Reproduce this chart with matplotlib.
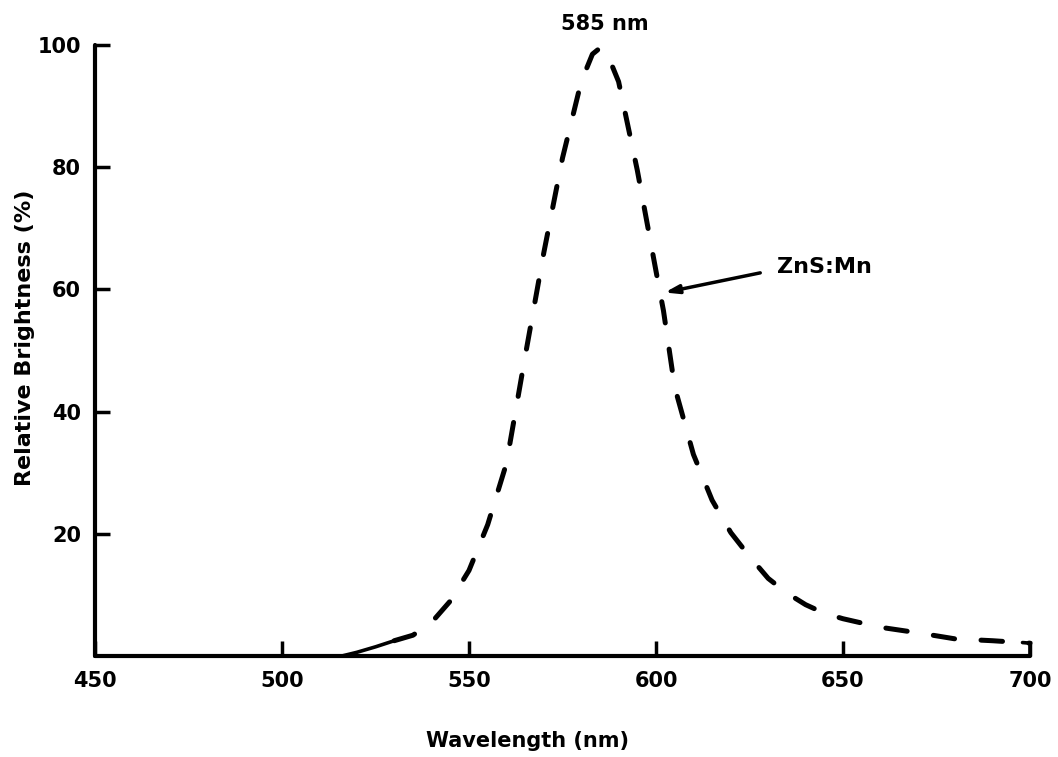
import matplotlib
matplotlib.use("Agg")
import matplotlib.pyplot as plt

# Data
wavelength = [516, 520, 525, 530, 535, 540, 545, 550, 555, 560, 565, 570, 575,
              580, 583, 585, 587, 590, 595, 600, 602, 605, 610, 615, 620, 625,
              630, 635, 640, 645, 650, 660, 670, 680, 690, 700]
brightness = [0.0, 0.6, 1.5, 2.5, 3.4, 5.5, 9.0, 14.0, 21.5, 31.5, 49.0, 66.0, 81.5,
              94.0, 98.5, 99.5, 98.5, 94.0, 79.5, 63.0, 56.5, 44.0, 33.0, 25.5, 20.2, 16.3,
              12.7, 10.3, 8.4, 7.0, 6.1, 4.7, 3.8, 2.8, 2.5, 2.1]
solid_end = 530  # start of curve is drawn solid
hook_x = [698, 700, 700]
hook_y = [2.2, 2.1, 0.0]

x_ticks = [450, 500, 550, 600, 650, 700]
y_ticks = [20, 40, 60, 80, 100]

peak_label = "585 nm"
peak_pos = (586.4, 103.5)
series_label = "ZnS:Mn"
arrow_tip = (601.6, 59.4)
arrow_tail = (628.6, 62.8)
text_pos = (632.4, 63.7)

W, H = 1058, 757
fig = plt.figure(figsize=(W / 100, H / 100), dpi=100)
ax = fig.add_axes([95 / W, 1 - 656 / H, (1030 - 95) / W, (656 - 45) / H])

bold = dict(fontweight="bold", family="DejaVu Sans")

solid_n = sum(1 for w in wavelength if w <= solid_end)
ax.plot(wavelength[:solid_n], brightness[:solid_n], color="black", lw=2.6,
        solid_capstyle="round", clip_on=False)
ax.plot(wavelength[solid_n - 1:], brightness[solid_n - 1:], color="black", lw=3.6,
        dashes=(4.3, 5.3), dash_capstyle="round", clip_on=False)
ax.plot(hook_x, hook_y, color="black", lw=2.6, solid_capstyle="round", clip_on=False)

ax.set_xlim(450, 700)
ax.set_ylim(0, 100)

for s in ["top", "right"]:
    ax.spines[s].set_visible(False)
for s in ["left", "bottom"]:
    ax.spines[s].set_linewidth(3)
    ax.spines[s].set_capstyle("round")

ax.set_xticks(x_ticks)
ax.set_yticks(y_ticks)
ax.set_xticklabels([str(v) for v in x_ticks], **bold)
ax.set_yticklabels([str(v) for v in y_ticks], **bold)
ax.tick_params(axis="both", direction="in", length=11, width=2.5, labelsize=15)
ax.tick_params(axis="x", pad=11)
ax.tick_params(axis="y", pad=10)

ax.set_xlabel("Wavelength (nm)", fontsize=15, **bold)
ax.xaxis.set_label_coords((527 - 95) / (1030 - 95), -(741 - 656) / (656 - 45))
ax.xaxis.label.set_verticalalignment("center")
ax.set_ylabel("Relative Brightness (%)", fontsize=16, **bold)
ax.yaxis.set_label_coords(-(95 - 25) / (1030 - 95), (656 - 338) / (656 - 45))
ax.yaxis.label.set_verticalalignment("center")

ax.text(peak_pos[0], peak_pos[1], peak_label, ha="center", va="center",
        fontsize=15, clip_on=False, **bold)
ax.annotate("", xy=arrow_tip, xytext=arrow_tail,
            arrowprops=dict(arrowstyle="-|>,head_length=0.8,head_width=0.25",
                            color="black", lw=2.5))
ax.text(text_pos[0], text_pos[1], series_label, ha="left", va="center",
        fontsize=16, **bold)

fig.savefig("out.png", dpi=100)
